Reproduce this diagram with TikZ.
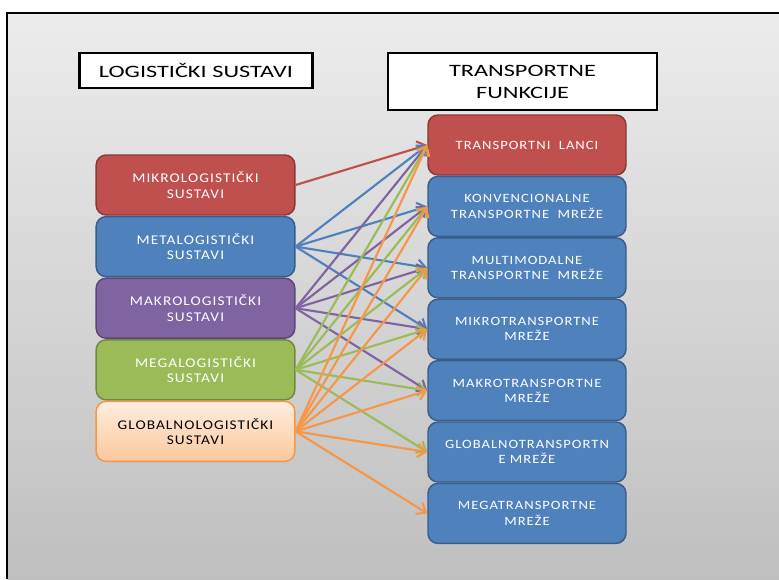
\documentclass[tikz,border=0pt]{standalone}
\usepackage{fontspec}
\usetikzlibrary{arrows.meta}

\font\headfnt="Carlito:extend=1.4" at 13pt
\newfontfamily\boxfont[FakeStretch=1.15,LetterSpace=8]{Carlito}

\definecolor{redfill}{RGB}{192,80,77}
\definecolor{redline}{RGB}{140,56,54}
\definecolor{bluefill}{RGB}{79,129,189}
\definecolor{blueline}{RGB}{56,93,138}
\definecolor{purplefill}{RGB}{128,100,162}
\definecolor{purpleline}{RGB}{92,71,118}
\definecolor{greenfill}{RGB}{155,187,89}
\definecolor{greenline}{RGB}{113,137,63}
\definecolor{orangeline}{RGB}{247,150,70}
\definecolor{peachtop}{RGB}{255,237,224}
\definecolor{peachbot}{RGB}{252,200,155}
\definecolor{bgtop}{RGB}{236,236,236}
\definecolor{bgbot}{RGB}{191,191,191}

\tikzset{every picture/.style={line width=0.75pt},
  headbox/.style={draw=black, fill=white, line width=2pt, inner sep=0pt, align=center, text width=190pt, font={\fontsize{13}{16.5}\selectfont\headfnt}},
  sysbox/.style={rounded corners=7.5pt, line width=1.1pt, minimum width=149pt, minimum height=45pt, inner sep=0pt, align=center, text width=145pt, text=white, font=\boxfont\fontsize{10}{11.5}\selectfont},
  funcbox/.style={sysbox, draw=blueline, fill=bluefill, minimum width=148.5pt, font=\boxfont\fontsize{9.5}{11.5}\selectfont},
  link/.style={line width=1.6pt, -{Straight Barb[length=6pt,width=10pt]}}
}

\begin{document}
\begin{tikzpicture}[x=0.75pt,y=0.75pt,yscale=-1,xscale=1]
	\useasboundingbox (0,0) rectangle (779,579);

	%Background and frame
	\fill [white] (0,0) rectangle (779,579);
	\shade [top color=bgtop, bottom color=bgbot] (7,13) rectangle (779,579);
	\draw [line width=1.6pt] (7,579) -- (7,13) -- (779,13);

	% Header Nodes
	\draw (196,70.5) node [headbox, text width=175pt, minimum height=26.25pt] (logh) {LOGISTIČKI SUSTAVI};
	\draw (522.5,81.5) node [headbox, text width=201.75pt, minimum height=42.75pt] (transh) {TRANSPORTNE\\FUNKCIJE};

	%Rounded Rect: logistic systems
	\draw (195.5,185) node [sysbox, draw=redline, fill=redfill] (mikro) {MIKROLOGISTIČKI\\SUSTAVI};
	\draw (195.5,246.6) node [sysbox, draw=blueline, fill=bluefill] (meta) {METALOGISTIČKI\\SUSTAVI};
	\draw (195.5,308.2) node [sysbox, draw=purpleline, fill=purplefill] (makro) {MAKROLOGISTIČKI\\SUSTAVI};
	\draw (195.5,369.8) node [sysbox, draw=greenline, fill=greenfill] (mega) {MEGALOGISTIČKI\\SUSTAVI};
	\draw (195.5,431.4) node [sysbox, draw=orangeline, top color=peachtop, bottom color=peachbot, text=black] (global) {GLOBALNOLOGISTIČKI\\SUSTAVI};

	%Rounded Rect: transport functions
	\draw (527,145) node [funcbox, draw=redline, fill=redfill] (lanci) {TRANSPORTNI\ \ LANCI};
	\draw (527,206.4) node [funcbox] (konv) {KONVENCIONALNE\\TRANSPORTNE\ \ MREŽE};
	\draw (527,267.8) node [funcbox] (multi) {MULTIMODALNE\\TRANSPORTNE\ \ MREŽE};
	\draw (527,329.2) node [funcbox] (mikrot) {MIKROTRANSPORTNE\\MREŽE};
	\draw (527,390.6) node [funcbox] (makrot) {MAKROTRANSPORTNE\\MREŽE};
	\draw (527,452) node [funcbox] (globalt) {GLOBALNOTRANSPORTN\\E MREŽE};
	\draw (527,513.4) node [funcbox] (megat) {MEGATRANSPORTNE\\MREŽE};

	%Straight Lines: mikro
	\draw [link, redfill] (mikro.east) -- (lanci.west);
	%Straight Lines: meta
	\draw [link, bluefill] (meta.east) -- (lanci.west);
	\draw [link, bluefill] (meta.east) -- (konv.west);
	\draw [link, bluefill] (meta.east) -- (multi.west);
	\draw [link, bluefill] (meta.east) -- (mikrot.west);
	%Straight Lines: makro
	\draw [link, purplefill] (makro.east) -- (lanci.west);
	\draw [link, purplefill] (makro.east) -- (konv.west);
	\draw [link, purplefill] (makro.east) -- (multi.west);
	\draw [link, purplefill] (makro.east) -- (mikrot.west);
	\draw [link, purplefill] (makro.east) -- (makrot.west);
	%Straight Lines: mega
	\draw [link, greenfill] (mega.east) -- (lanci.west);
	\draw [link, greenfill] (mega.east) -- (konv.west);
	\draw [link, greenfill] (mega.east) -- (multi.west);
	\draw [link, greenfill] (mega.east) -- (mikrot.west);
	\draw [link, greenfill] (mega.east) -- (makrot.west);
	\draw [link, greenfill] (mega.east) -- (globalt.west);
	%Straight Lines: global
	\draw [link, orangeline] (global.east) -- (lanci.west);
	\draw [link, orangeline] (global.east) -- (konv.west);
	\draw [link, orangeline] (global.east) -- (multi.west);
	\draw [link, orangeline] (global.east) -- (mikrot.west);
	\draw [link, orangeline] (global.east) -- (makrot.west);
	\draw [link, orangeline] (global.east) -- (globalt.west);
	\draw [link, orangeline] (global.east) -- (megat.west);

\end{tikzpicture}
\end{document}
